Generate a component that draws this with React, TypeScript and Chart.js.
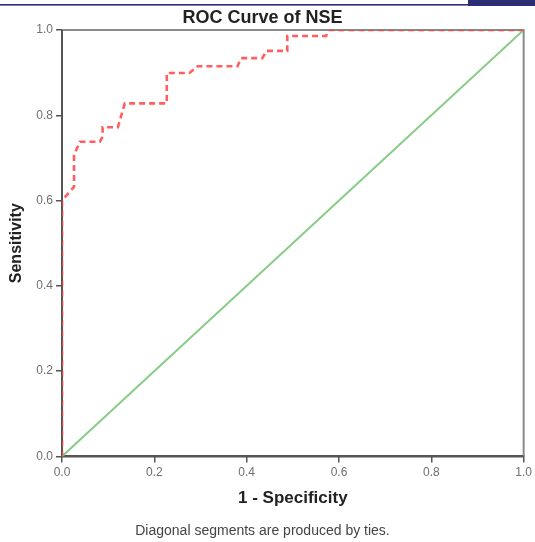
import React, { useEffect, useRef } from "react";
import { Chart, registerables } from "chart.js";

Chart.register(...registerables);

// ROC curve (1 - specificity, sensitivity)
const fprValues = [0, 0, 0.026, 0.026, 0.039, 0.082, 0.088, 0.088, 0.121, 0.136, 0.227, 0.227, 0.276, 0.294, 0.38, 0.388, 0.434, 0.443, 0.488, 0.488, 0.572, 0.578, 1.0];
const tprValues = [0, 0.6, 0.632, 0.707, 0.738, 0.738, 0.75, 0.772, 0.772, 0.828, 0.828, 0.899, 0.899, 0.915, 0.915, 0.934, 0.934, 0.951, 0.951, 0.986, 0.986, 1.0, 1.0];

// reference line
const diagonalX = [0, 1];
const diagonalY = [0, 1];

const tickValues = [0, 0.2, 0.4, 0.6, 0.8, 1.0];

const titleText = "ROC Curve of NSE";
const xTitleText = "1 - Specificity";
const yTitleText = "Sensitivity";
const footerText = "Diagonal segments are produced by ties.";

const FONT = "'Liberation Sans', Arial, Helvetica, sans-serif";

const decorPlugin = {
  id: "decor",
  beforeDraw(chart: any) {
    const ctx = chart.ctx;
    ctx.save();
    ctx.fillStyle = "#ffffff";
    ctx.fillRect(0, 0, chart.width, chart.height);
    ctx.fillStyle = "#2b2e74";
    ctx.fillRect(0, 4, 470, 1.6);
    ctx.fillRect(468, 0, chart.width - 468, 6);
    ctx.restore();
  },
  beforeDatasetsDraw(chart: any) {
    const { ctx, chartArea } = chart;
    const { left, right, top, bottom } = chartArea;
    ctx.save();
    ctx.lineWidth = 2;
    ctx.strokeStyle = "#8a8a8a";
    ctx.beginPath();
    ctx.moveTo(left, top);
    ctx.lineTo(right, top);
    ctx.lineTo(right, bottom);
    ctx.stroke();
    ctx.strokeStyle = "#555555";
    ctx.beginPath();
    ctx.moveTo(left, top);
    ctx.lineTo(left, bottom);
    ctx.lineTo(right, bottom);
    ctx.stroke();
    ctx.restore();
  },
};

export default function App() {
  const canvasRef = useRef<HTMLCanvasElement | null>(null);

  useEffect(() => {
    if (!canvasRef.current) return;
    const rocPoints = fprValues.map((x, i) => ({ x, y: tprValues[i] }));
    const diagPoints = diagonalX.map((x, i) => ({ x, y: diagonalY[i] }));

    const axisTicks = (scale: any) => {
      scale.ticks = tickValues.map((v) => ({ value: v }));
    };

    const chart = new Chart(canvasRef.current, {
      type: "scatter",
      data: {
        datasets: [
          {
            label: "NSE",
            data: rocPoints,
            showLine: true,
            borderColor: "rgba(255, 60, 60, 0.82)",
            borderWidth: 2.6,
            borderDash: [6, 4],
            pointRadius: 0,
            fill: false,
          },
          {
            label: "Reference Line",
            data: diagPoints,
            showLine: true,
            borderColor: "#86cc86",
            borderWidth: 2,
            pointRadius: 0,
            fill: false,
          },
        ],
      },
      options: {
        responsive: false,
        animation: false,
        layout: { padding: { left: 0, right: 10, top: 0, bottom: 0 } },
        plugins: {
          legend: { display: false },
          tooltip: { enabled: false },
          title: {
            display: true,
            text: titleText,
            color: "#222222",
            font: { family: FONT, size: 18, weight: "bold" },
            padding: { top: 7, bottom: 1.4 },
          },
          subtitle: {
            display: true,
            position: "bottom",
            text: footerText,
            color: "#444444",
            font: { family: FONT, size: 14, weight: "normal" },
            padding: { top: 14, bottom: 2.8 },
          },
        },
        scales: {
          x: {
            type: "linear",
            min: 0,
            max: 1,
            afterBuildTicks: axisTicks,
            afterFit: (s: any) => {
              s.height = 52;
            },
            grid: {
              drawOnChartArea: false,
              drawTicks: true,
              tickLength: 6,
              color: "#555555",
              lineWidth: 1.5,
            },
            border: { display: true, color: "#555555", width: 2 },
            ticks: {
              color: "#6f6f6f",
              padding: 3,
              maxRotation: 0,
              font: { family: FONT, size: 12 },
              callback: (v: any) => Number(v).toFixed(1),
            },
            title: {
              display: true,
              text: xTitleText,
              color: "#222222",
              font: { family: FONT, size: 17, weight: "bold" },
              padding: { top: 0, bottom: 0 },
            },
          },
          y: {
            type: "linear",
            min: 0,
            max: 1,
            afterBuildTicks: axisTicks,
            afterFit: (s: any) => {
              s.width = 62;
            },
            grid: {
              drawOnChartArea: false,
              drawTicks: true,
              tickLength: 6,
              color: "#555555",
              lineWidth: 1.5,
            },
            border: { display: true, color: "#555555", width: 2 },
            ticks: {
              color: "#6f6f6f",
              padding: 3,
              font: { family: FONT, size: 12 },
              callback: (v: any) => Number(v).toFixed(1),
            },
            title: {
              display: true,
              text: yTitleText,
              color: "#222222",
              font: { family: FONT, size: 16, weight: "bold" },
              padding: { top: 7, bottom: 0 },
            },
          },
        },
      },
      plugins: [decorPlugin],
    });

    return () => {
      chart.destroy();
    };
  }, []);

  return (
    <div style={{ position: "absolute", left: 0, top: 0, width: 535, height: 542, background: "#ffffff" }}>
      <canvas ref={canvasRef} width={535} height={542} style={{ width: 535, height: 542, display: "block" }} />
    </div>
  );
}
